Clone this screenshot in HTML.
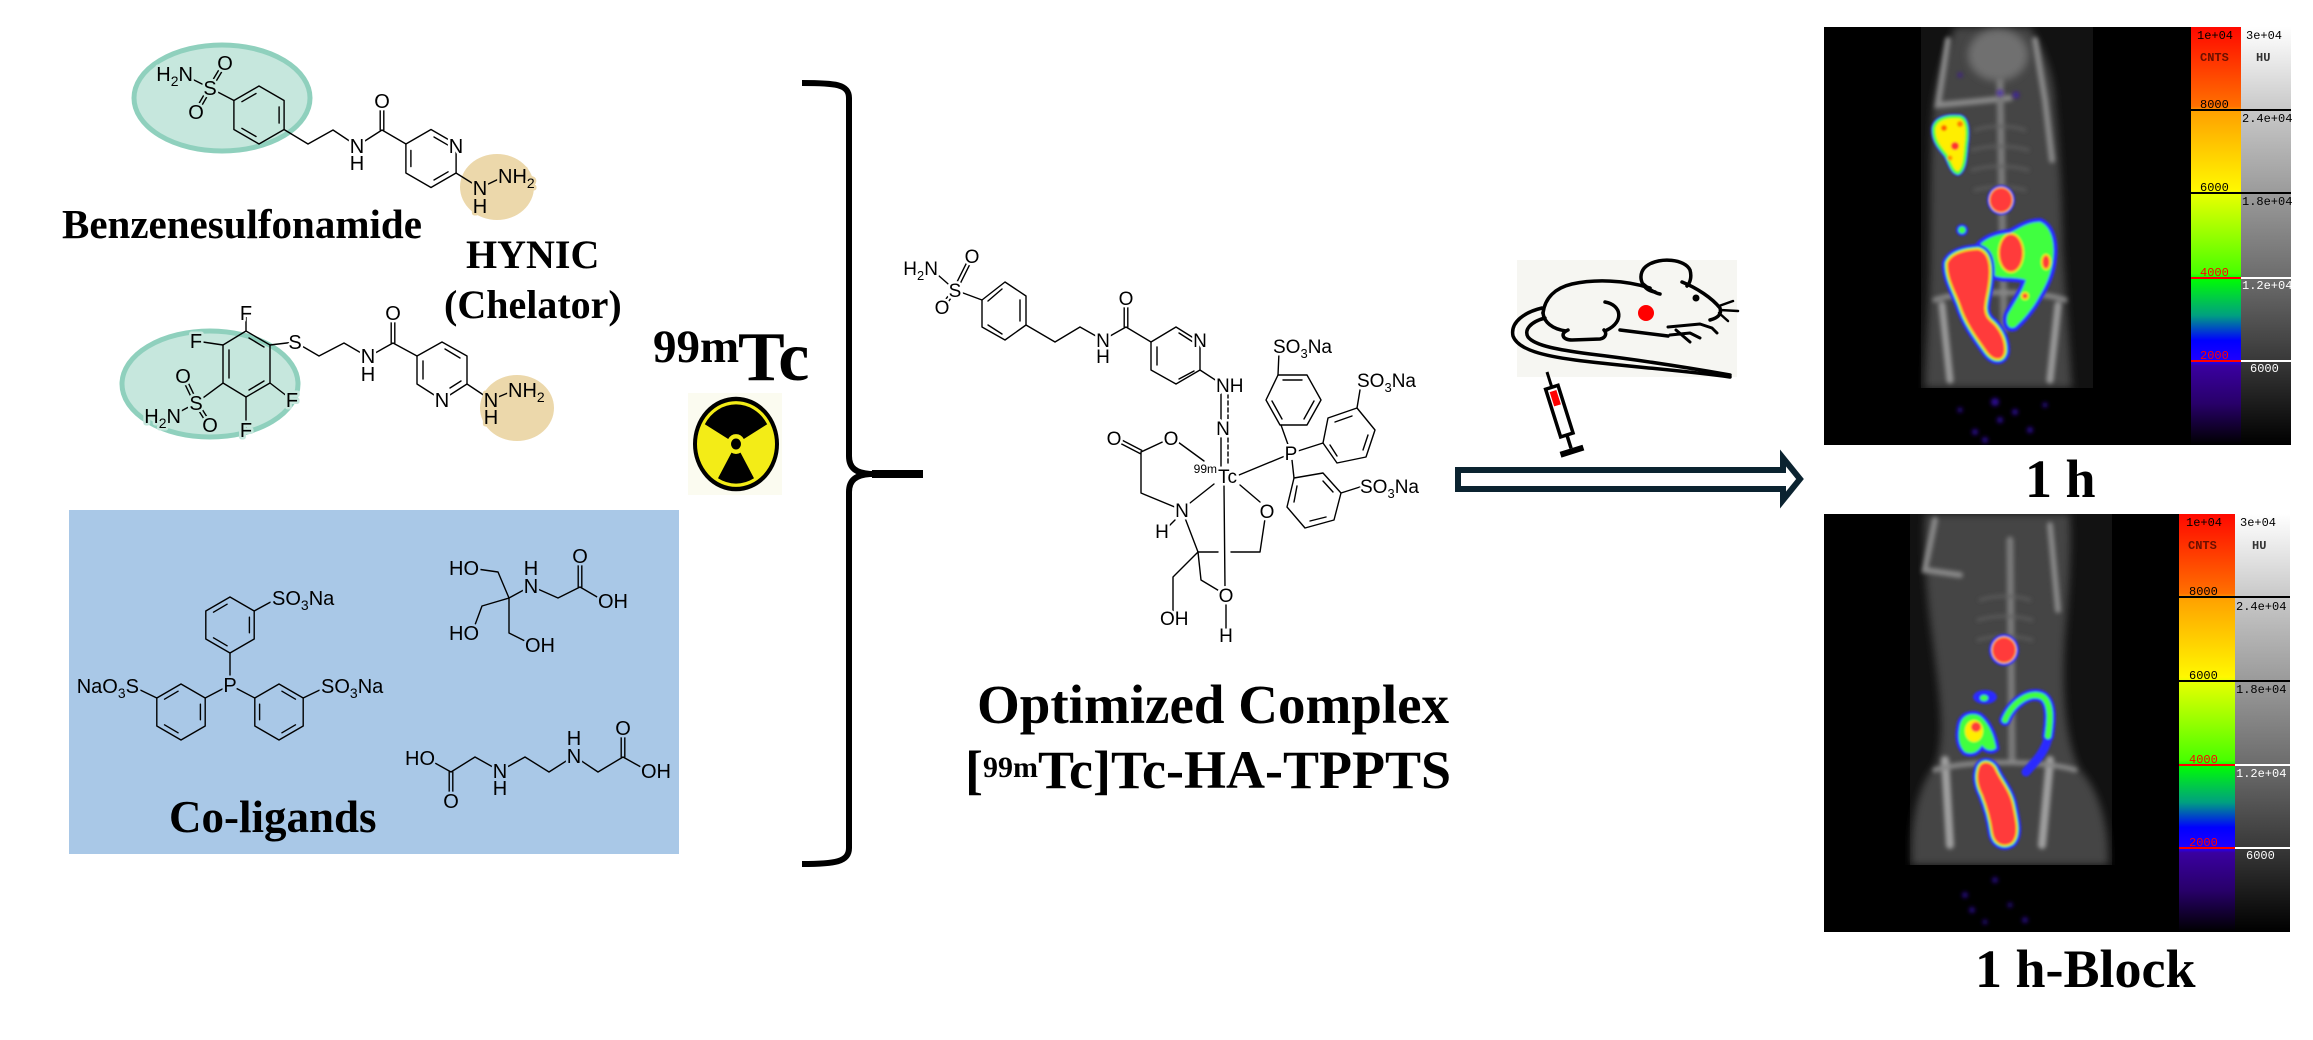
<!DOCTYPE html>
<html><head><meta charset="utf-8"><style>
html,body{margin:0;padding:0;background:#fff}
svg{display:block}
.l{font-family:"Liberation Sans",Arial,sans-serif;font-size:20px;fill:#000;paint-order:stroke;stroke-width:5px;stroke-linejoin:round}
.m{font-size:19px}
.w{stroke:#fff}.t{stroke:#c6e7dd}.n{stroke:#ecd8ab}.b{stroke:#a9c8e7}
.h{font-family:"Liberation Serif","Times New Roman",serif;font-weight:bold;fill:#000}
.c{font-family:"Liberation Mono",monospace;font-size:12px}
</style></head><body>
<svg width="2313" height="1040" viewBox="0 0 2313 1040" xmlns="http://www.w3.org/2000/svg">
<defs>
<filter id="b1" x="-20%" y="-20%" width="140%" height="140%"><feGaussianBlur stdDeviation="1"/></filter>
<filter id="b2" x="-20%" y="-20%" width="140%" height="140%"><feGaussianBlur stdDeviation="2"/></filter>
<filter id="b3" x="-20%" y="-20%" width="140%" height="140%"><feGaussianBlur stdDeviation="4"/></filter>
<clipPath id="ci1"><rect x="1824" y="27" width="367" height="418"/></clipPath>
<clipPath id="ci1b"><rect x="1824" y="27" width="367" height="361"/></clipPath>
<clipPath id="ci2"><rect x="1824" y="514" width="355" height="418"/></clipPath>
<clipPath id="ci2b"><rect x="1824" y="514" width="355" height="351"/></clipPath>
<linearGradient id="cnts" x1="0" y1="0" x2="0" y2="1">
<stop offset="0" stop-color="#ff0800"/><stop offset="0.19" stop-color="#ff7000"/>
<stop offset="0.2" stop-color="#ffa000"/><stop offset="0.39" stop-color="#fff800"/>
<stop offset="0.4" stop-color="#e8ff00"/><stop offset="0.59" stop-color="#48ff00"/>
<stop offset="0.6" stop-color="#00ff00"/><stop offset="0.69" stop-color="#00a080"/>
<stop offset="0.75" stop-color="#0000ff"/><stop offset="0.8" stop-color="#2000ff"/>
<stop offset="0.81" stop-color="#3a00a0"/><stop offset="0.9" stop-color="#28006a"/>
<stop offset="1" stop-color="#000000"/>
</linearGradient>
<linearGradient id="hu" x1="0" y1="0" x2="0" y2="1">
<stop offset="0" stop-color="#ffffff"/><stop offset="0.2" stop-color="#c8c8c8"/>
<stop offset="0.4" stop-color="#9a9a9a"/><stop offset="0.6" stop-color="#6c6c6c"/>
<stop offset="0.8" stop-color="#383838"/><stop offset="1" stop-color="#000000"/>
</linearGradient>
</defs>
<rect width="2313" height="1040" fill="#fff"/>

<!-- ============ LEFT: molecules ============ -->
<ellipse cx="222" cy="98" rx="88" ry="53" fill="#c6e7dd" stroke="#8fd0bd" stroke-width="5"/>
<ellipse cx="497" cy="187" rx="37" ry="33" fill="#ecd8ab"/>
<ellipse cx="210" cy="384" rx="88" ry="53" fill="#c6e7dd" stroke="#8fd0bd" stroke-width="5"/>
<ellipse cx="517" cy="408" rx="37" ry="33" fill="#ecd8ab"/>
<rect x="69" y="510" width="610" height="344" fill="#a9c8e7"/>

<g stroke="#000" stroke-width="1.4" fill="none" stroke-linecap="round" stroke-linejoin="round">
<!-- molecule 1 -->
<path d="M186,76 L210,88"/>
<path d="M208.5,87.1 L223.5,62.1 M211.5,88.9 L226.5,63.9"/>
<path d="M211.5,88.9 L197.5,112.9 M208.5,87.1 L194.5,111.1"/>
<path d="M210,88 L234,100.5"/>
<g transform="translate(259,115)"><polygon points="0,-29 25.1,-14.5 25.1,14.5 0,29 -25.1,14.5 -25.1,-14.5"/><path d="M20.1,-8.1 L20.1,8.1 M-3,21.5 L-17.1,13.3 M-17.1,-13.3 L-3,-21.5"/></g>
<path d="M284,129.5 L308,144 L333,130 L357,146 L382,130 L406,144"/>
<path d="M380.2,130 L380.2,101 M383.8,130 L383.8,101"/>
<g transform="translate(431,158.5)"><polygon points="0,-29 25.1,-14.5 25.1,14.5 0,29 -25.1,14.5 -25.1,-14.5"/><path d="M3,-21.5 L17.1,-13.3 M17.1,13.3 L3,21.5 M-20.1,8.1 L-20.1,-8.1"/></g>
<path d="M456,173 L480,188 L505,176"/>
<!-- molecule 2 -->
<path d="M246,331 L270,345 L270,383 L246,397 L223,383 L223,345 Z"/>
<path d="M249,338 L264,347 M264,381 L249,390 M229,350 L229,378"/>
<path d="M246,331 L246,313 M223,345 L196,341 M270,345 L295,342"/>
<path d="M295,342 L319,356 L344,343 L368,357 L393,343 L417,356"/>
<path d="M391.2,343 L391.2,313 M394.8,343 L394.8,313"/>
<path d="M417,356 L442,342 L467,356 L467,384 L442,400 L417,384 Z"/>
<path d="M445,349 L460,358 M461,381 L450,388 M423,379 L423,361"/>
<path d="M467,384 L491,400 L515,390"/>
<path d="M223,383 L196,403"/>
<path d="M197.6,402.2 L184.6,375.2 M194.4,403.8 L181.4,376.8"/>
<path d="M197.5,402 L211.5,424 M194.5,404 L208.5,426"/>
<path d="M196,403 L172,416"/>
<path d="M270,383 L292,400 M246,397 L246,430"/>
<!-- TPPTS -->
<g transform="translate(230,625)"><polygon points="0,-28 24.2,-14 24.2,14 0,28 -24.2,14 -24.2,-14"/><path d="M19.4,-7.8 L19.4,7.8 M-2.9,20.8 L-16.5,12.8 M-16.5,-12.8 L-2.9,-20.8"/></g>
<g transform="translate(181,712)"><polygon points="0,-28 24.2,-14 24.2,14 0,28 -24.2,14 -24.2,-14"/><path d="M19.4,-7.8 L19.4,7.8 M-2.9,20.8 L-16.5,12.8 M-16.5,-12.8 L-2.9,-20.8"/></g>
<g transform="translate(279,712)"><polygon points="0,-28 24.2,-14 24.2,14 0,28 -24.2,14 -24.2,-14"/><path d="M-19.4,-7.8 L-19.4,7.8 M2.9,20.8 L16.5,12.8 M16.5,-12.8 L2.9,-20.8"/></g>
<path d="M230,653 L230,685 L205.2,698 M230,685 L254.8,698 M254.2,611 L278,598 M156.8,698 L132,686 M303.2,698 L328,686"/>
<!-- tricine -->
<path d="M470,568 L498,572 L509,598 L482,606 L472,633 M509,598 L509,633 L533,645 M509,598 L531,586 L558,598 L580,587 L604,601"/>
<path d="M578.2,587 L578.2,556 M581.8,587 L581.8,556"/>
<!-- EDDA -->
<path d="M426,758 L451,772 L475,757 L500,771 L525,757 L549,772 L574,756 L598,772 L623,757 L648,771"/>
<path d="M449.2,772 L449.2,801 M452.8,772 L452.8,801 M621.2,757 L621.2,728 M624.8,757 L624.8,728"/>
</g>

<!-- label backgrounds (clear bond lines inside O / P counters) -->
<g fill="#c6e7dd"><circle cx="225" cy="63" r="7.5"/><circle cx="196" cy="112" r="7.5"/><circle cx="183" cy="376" r="7.5"/><circle cx="210" cy="425" r="7.5"/></g>
<g fill="#fff"><circle cx="382" cy="101" r="7.5"/><circle cx="393" cy="313" r="7.5"/></g>
<g fill="#a9c8e7"><circle cx="230" cy="685" r="7.5"/><circle cx="580" cy="556" r="7.5"/><circle cx="471" cy="568" r="7.5"/><circle cx="471" cy="633" r="7.5"/><circle cx="533" cy="645" r="7.5"/><circle cx="606" cy="601" r="7.5"/><circle cx="427" cy="758" r="7.5"/><circle cx="451" cy="801" r="7.5"/><circle cx="623" cy="728" r="7.5"/><circle cx="649" cy="771" r="7.5"/></g>

<!-- labels molecule 1 -->
<text class="l t" x="193" y="81" text-anchor="end">H<tspan font-size="14" dy="5">2</tspan><tspan dy="-5">N</tspan></text>
<text class="l t" x="210" y="95" text-anchor="middle">S</text>
<text class="l t" x="225" y="70" text-anchor="middle">O</text>
<text class="l t" x="196" y="119" text-anchor="middle">O</text>
<text class="l w" x="357" y="153" text-anchor="middle">N</text>
<text class="l w" x="357" y="170" text-anchor="middle">H</text>
<text class="l w" x="382" y="108" text-anchor="middle">O</text>
<text class="l w" x="456" y="153" text-anchor="middle">N</text>
<text class="l n" x="480" y="195" text-anchor="middle">N</text>
<text class="l n" x="480" y="213" text-anchor="middle">H</text>
<text class="l n" x="498" y="183">NH<tspan font-size="14" dy="5">2</tspan></text>
<!-- labels molecule 2 -->
<text class="l w" x="246" y="320" text-anchor="middle">F</text>
<text class="l t" x="196" y="348" text-anchor="middle">F</text>
<text class="l w" x="295" y="349" text-anchor="middle">S</text>
<text class="l w" x="368" y="363" text-anchor="middle">N</text>
<text class="l w" x="368" y="381" text-anchor="middle">H</text>
<text class="l w" x="393" y="320" text-anchor="middle">O</text>
<text class="l w" x="442" y="407" text-anchor="middle">N</text>
<text class="l n" x="491" y="407" text-anchor="middle">N</text>
<text class="l n" x="491" y="424" text-anchor="middle">H</text>
<text class="l n" x="508" y="397">NH<tspan font-size="14" dy="5">2</tspan></text>
<text class="l t" x="183" y="383" text-anchor="middle">O</text>
<text class="l t" x="196" y="410" text-anchor="middle">S</text>
<text class="l t" x="210" y="432" text-anchor="middle">O</text>
<text class="l t" x="181" y="423" text-anchor="end">H<tspan font-size="14" dy="5">2</tspan><tspan dy="-5">N</tspan></text>
<text class="l t" x="292" y="407" text-anchor="middle">F</text>
<text class="l t" x="246" y="437" text-anchor="middle">F</text>
<!-- labels co-ligands -->
<text class="l b" x="230" y="692" text-anchor="middle">P</text>
<text class="l b" x="272" y="605">SO<tspan font-size="14" dy="5">3</tspan><tspan dy="-5">Na</tspan></text>
<text class="l b" x="139" y="693" text-anchor="end">NaO<tspan font-size="14" dy="5">3</tspan><tspan dy="-5">S</tspan></text>
<text class="l b" x="321" y="693">SO<tspan font-size="14" dy="5">3</tspan><tspan dy="-5">Na</tspan></text>
<text class="l b" x="449" y="575">HO</text>
<text class="l b" x="449" y="640">HO</text>
<text class="l b" x="525" y="652">OH</text>
<text class="l b" x="531" y="593" text-anchor="middle">N</text>
<text class="l b" x="531" y="575" text-anchor="middle">H</text>
<text class="l b" x="580" y="563" text-anchor="middle">O</text>
<text class="l b" x="598" y="608">OH</text>
<text class="l b" x="405" y="765">HO</text>
<text class="l b" x="451" y="808" text-anchor="middle">O</text>
<text class="l b" x="500" y="778" text-anchor="middle">N</text>
<text class="l b" x="500" y="795" text-anchor="middle">H</text>
<text class="l b" x="574" y="763" text-anchor="middle">N</text>
<text class="l b" x="574" y="745" text-anchor="middle">H</text>
<text class="l b" x="623" y="735" text-anchor="middle">O</text>
<text class="l b" x="641" y="778">OH</text>

<!-- big labels left -->
<text class="h" x="62" y="238" font-size="41">Benzenesulfonamide</text>
<text class="h" x="466" y="268" font-size="40">HYNIC</text>
<text class="h" x="444" y="318" font-size="40">(Chelator)</text>
<text class="h" x="169" y="832" font-size="45">Co-ligands</text>

<!-- 99mTc + radiation -->
<text class="h" x="653" y="362" font-size="47">99m</text>
<text class="h" x="738" y="380" font-size="70">Tc</text>
<rect x="688" y="393" width="94" height="102" fill="#fbfbf0"/>
<g transform="translate(736,444) scale(1,1.1)">
<circle r="41" fill="#f3ec17" stroke="#000" stroke-width="4"/>
<path d="M0,-36 A36 36 0 0 1 31.18,-18 L7.79,-4.5 A9 9 0 0 0 0,-9 Z M-31.18,-18 A36 36 0 0 1 0,-36 L0,-9 A9 9 0 0 0 -7.79,-4.5 Z M18,31.18 A36 36 0 0 1 -18,31.18 L-4.5,7.79 A9 9 0 0 0 4.5,7.79 Z" fill="#000"/>
<circle r="5" fill="#000"/>
</g>

<!-- bracket -->
<path d="M802,83 C835,83 849,84 849,98 L849,456 C849,468 856,473 870,474 L923,474 M870,474 C856,475 849,480 849,492 L849,848 C849,862 835,864 802,864" stroke="#000" stroke-width="6" fill="none"/>
<line x1="872" y1="474" x2="923" y2="474" stroke="#000" stroke-width="8"/>

<!-- ============ CENTRAL COMPLEX ============ -->
<g stroke="#000" stroke-width="1.4" fill="none" stroke-linecap="round" stroke-linejoin="round">
<path d="M930,268 L955,290"/>
<path d="M956.6,290.8 L973.6,256.8 M953.4,289.2 L970.4,255.2"/>
<path d="M956.4,291.1 L943.4,308.1 M953.6,288.9 L940.6,305.9"/>
<path d="M955,290 L982,300"/>
<path d="M1005,282 L1026,296 L1026,325 L1005,340 L982,327 L982,300 Z"/>
<path d="M1020,300 L1020,321 M1002,334 L988,325 M988,301 L1002,289"/>
<path d="M1026,325 L1055,342 L1080,327 L1103,340 L1126,327 L1151,342"/>
<path d="M1124.2,327 L1124.2,298 M1127.8,327 L1127.8,298"/>
<path d="M1151,342 L1176,327 L1200,342 L1200,370 L1176,384 L1151,370 Z"/>
<path d="M1179,333 L1193,342 M1194,371 L1179,379 M1157,365 L1157,347"/>
<path d="M1200,370 L1223,385"/>
<path d="M1221,394 L1221,421 M1221,438 L1221,466"/>
<path d="M1228,394 L1228,421 M1228,438 L1228,466" stroke-dasharray="4,3"/>
<path d="M1113.2,439.6 L1140.2,453.6 M1114.8,436.4 L1141.8,450.4"/>
<path d="M1141,452 L1171,438"/>
<path d="M1178,442 L1204,461"/>
<path d="M1141,452 L1141,493 L1182,510"/>
<path d="M1190,503 L1214,484"/>
<path d="M1175,520 L1167,528"/>
<path d="M1185,518 L1198,552"/>
<path d="M1198,552 L1218,552 M1231,552 L1260,552 L1266,512"/>
<path d="M1260,502 L1240,485"/>
<path d="M1198,552 L1173,577 L1173,612"/>
<path d="M1198,552 L1201,580 L1226,595"/>
<path d="M1226,602 L1226,628"/>
<path d="M1224,486 L1225,588"/>
<path d="M1239,475 L1285,456"/>
<path d="M1291,453 L1281,425"/>
<path d="M1278,375 L1307,375 L1321,400 L1307,425 L1280,425 L1266,400 Z"/>
<path d="M1283,380 L1302,380 M1304,419 L1314,401 M1272,401 L1282,419"/>
<path d="M1278,375 L1279,352"/>
<path d="M1298,451 L1323,443"/>
<path d="M1328,418 L1357,408 L1375,430 L1366,457 L1337,463 L1323,443 Z"/>
<path d="M1335,422 L1352,416 M1368,435 L1363,450 M1337,456 L1330,445"/>
<path d="M1357,408 L1360,390"/>
<path d="M1292,460 L1294,478"/>
<path d="M1294,478 L1323,473 L1341,493 L1334,520 L1305,528 L1287,507 Z"/>
<path d="M1323,481 L1333,492 M1326,517 L1310,521 M1294,502 L1297,486"/>
<path d="M1341,493 L1363,486"/>
</g>
<g fill="#fff"><circle cx="972" cy="256" r="7"/><circle cx="942" cy="307" r="7"/><circle cx="1126" cy="298" r="7"/><circle cx="1171" cy="438" r="7"/><circle cx="1114" cy="438" r="7"/><circle cx="1267" cy="511" r="7"/><circle cx="1167" cy="618" r="7"/><circle cx="1226" cy="595" r="7"/><circle cx="1291" cy="453" r="7"/></g>
<text class="l m w" x="938" y="275" text-anchor="end">H<tspan font-size="13" dy="5">2</tspan><tspan dy="-5">N</tspan></text>
<text class="l m w" x="955" y="297" text-anchor="middle">S</text>
<text class="l m w" x="972" y="263" text-anchor="middle">O</text>
<text class="l m w" x="942" y="314" text-anchor="middle">O</text>
<text class="l m w" x="1103" y="347" text-anchor="middle">N</text>
<text class="l m w" x="1103" y="363" text-anchor="middle">H</text>
<text class="l m w" x="1126" y="305" text-anchor="middle">O</text>
<text class="l m w" x="1200" y="347" text-anchor="middle">N</text>
<text class="l m w" x="1216" y="392">NH</text>
<text class="l m w" x="1223" y="435" text-anchor="middle">N</text>
<text class="l m w" x="1218" y="483">Tc</text>
<text class="l w" x="1217" y="473" text-anchor="end" style="font-size:12px;stroke-width:3px">99m</text>
<text class="l m w" x="1171" y="445" text-anchor="middle">O</text>
<text class="l m w" x="1114" y="445" text-anchor="middle">O</text>
<text class="l m w" x="1182" y="517" text-anchor="middle">N</text>
<text class="l m w" x="1162" y="538" text-anchor="middle">H</text>
<text class="l m w" x="1267" y="518" text-anchor="middle">O</text>
<text class="l m w" x="1160" y="625">OH</text>
<text class="l m w" x="1226" y="602" text-anchor="middle">O</text>
<text class="l m w" x="1226" y="642" text-anchor="middle">H</text>
<text class="l m w" x="1291" y="460" text-anchor="middle">P</text>
<text class="l m w" x="1273" y="353">SO<tspan font-size="13" dy="5">3</tspan><tspan dy="-5">Na</tspan></text>
<text class="l m w" x="1357" y="387">SO<tspan font-size="13" dy="5">3</tspan><tspan dy="-5">Na</tspan></text>
<text class="l m w" x="1360" y="493">SO<tspan font-size="13" dy="5">3</tspan><tspan dy="-5">Na</tspan></text>

<text class="h" x="977" y="723" font-size="55">Optimized Complex</text>
<text class="h" x="965" y="788" font-size="54">[<tspan font-size="30" dy="-11">99m</tspan><tspan dy="11">Tc]Tc-HA-TPPTS</tspan></text>

<!-- ============ MOUSE + SYRINGE + ARROW ============ -->
<rect x="1517" y="260" width="220" height="117" fill="#f6f6f2"/>
<g stroke="#000" stroke-width="3.5" fill="none" stroke-linecap="round" stroke-linejoin="round">
<path d="M1543,313 C1545,298 1555,288 1572,284 C1595,279 1625,280 1650,288"/>
<path d="M1655,292 C1640,290 1636,272 1648,265 C1660,257 1685,259 1690,270 C1692,277 1690,283 1687,286"/>
<path d="M1643,284 C1650,290 1655,293 1660,294"/>
<path d="M1682,282 C1697,288 1712,298 1720,308 C1722,314 1718,318 1710,320"/>
<path d="M1719,306 L1733,301 M1720,310 L1738,311 M1719,313 L1728,321" stroke-width="2.5"/>
<path d="M1668,327 L1700,324 L1712,328 L1717,333 M1670,335 L1690,333 L1700,338 M1676,330 L1690,342" stroke-width="3"/>
<path d="M1620,330 L1668,336"/>
<path d="M1605,302 C1622,305 1624,322 1607,330"/>
<path d="M1568,330 C1560,333 1562,340 1572,340 L1600,339 C1606,338 1607,333 1604,330"/>
<path d="M1543,313 C1544,322 1552,329 1566,331"/>
<path d="M1542,308 C1525,312 1510,322 1513,336 C1518,350 1545,356 1575,360 C1620,366 1680,370 1730,377"/>
<path d="M1545,318 C1530,322 1524,330 1528,337 C1535,346 1560,350 1590,354 C1640,360 1690,368 1730,375"/>
</g>
<circle cx="1696" cy="298" r="3.5" fill="#000"/>
<circle cx="1646" cy="313" r="8" fill="#f00"/>
<g transform="translate(1547,372) rotate(-17.5)">
<line x1="0" y1="0" x2="0" y2="16" stroke="#000" stroke-width="3"/>
<rect x="-6.5" y="16" width="13" height="50" fill="#fff" stroke="#000" stroke-width="3.5"/>
<rect x="-3.5" y="20" width="7" height="15" fill="#f00"/>
<line x1="0" y1="66" x2="0" y2="80" stroke="#000" stroke-width="3.5"/>
<rect x="-12" y="80" width="24" height="6" fill="#000"/>
</g>
<path d="M1458,470 H1783 V458 L1800,479 L1783,500 V489 H1458 Z" fill="#fff" stroke="#0b2330" stroke-width="6" stroke-linejoin="miter"/>

<!-- ============ SPECT IMAGE 1 ============ -->
<rect x="1824" y="27" width="367" height="418" fill="#000"/>
<g clip-path="url(#ci1)">
<g clip-path="url(#ci1b)">
<rect x="1921" y="27" width="172" height="361" fill="#121212"/>
<path d="M1955,27 L2030,27 C2045,50 2055,80 2055,105 C2060,150 2062,200 2063,250 C2066,300 2070,350 2072,388 L1925,388 C1926,340 1930,300 1930,250 C1931,200 1930,150 1933,110 C1936,80 1945,50 1955,27 Z" fill="#444" filter="url(#b3)"/>
<g stroke="#888" fill="none" filter="url(#b2)" stroke-linecap="round">
<path d="M1948,40 L1938,105 L1970,102 L2010,98" stroke-width="6"/>
<path d="M2035,40 L2045,100 L2052,160" stroke-width="6"/>
<path d="M2000,80 L2004,330" stroke-width="7" stroke="#7a7a7a"/>
<path d="M1975,130 C1990,125 2010,125 2025,130 M1972,150 C1990,145 2010,145 2028,150 M1972,170 C1990,165 2010,165 2028,170 M1975,190 C1990,186 2010,186 2025,190" stroke-width="2.5" stroke="#5e5e5e"/>
<path d="M1942,305 L1950,380 M2058,305 L2050,380" stroke-width="7" stroke="#9a9a9a"/>
<path d="M1935,300 C1960,290 2040,290 2065,300" stroke-width="5"/>
</g>
<ellipse cx="1998" cy="55" rx="30" ry="26" fill="#707070" filter="url(#b3)"/>
<line x1="2087" y1="27" x2="2087" y2="388" stroke="#4a4a4a" stroke-width="5" filter="url(#b2)"/>
</g>
<g filter="url(#b2)" fill="#3a10c0" opacity="0.8">
<circle cx="1995" cy="402" r="4"/><circle cx="2000" cy="420" r="3"/><circle cx="1975" cy="432" r="3"/>
<circle cx="2030" cy="430" r="3"/><circle cx="2015" cy="412" r="3"/><circle cx="1960" cy="410" r="2.5"/>
<circle cx="2045" cy="405" r="2.5"/><circle cx="1985" cy="440" r="3"/>
<circle cx="2000" cy="93" r="3"/><circle cx="2016" cy="95" r="3"/><circle cx="1960" cy="75" r="2"/>
</g>
<g filter="url(#b1)">
<path d="M1934,128 C1936,118 1948,116 1960,117 C1967,119 1968,130 1966,145 C1965,158 1964,170 1958,173 C1952,172 1950,162 1946,155 C1940,148 1933,140 1934,128 Z" fill="#2a2aff" stroke="#2a2aff" stroke-width="6"/>
<path d="M1934,128 C1936,118 1948,116 1960,117 C1967,119 1968,130 1966,145 C1965,158 1964,170 1958,173 C1952,172 1950,162 1946,155 C1940,148 1933,140 1934,128 Z" fill="#ffee00" stroke="#50ff30" stroke-width="3"/>
<circle cx="1955" cy="146" r="4" fill="#ff3030"/>
<circle cx="1944" cy="128" r="3" fill="#ff6000"/>
<circle cx="1960" cy="124" r="3" fill="#ff8000"/>
<circle cx="1950" cy="158" r="2.5" fill="#ff9000"/>
<ellipse cx="2001" cy="200" rx="14" ry="15" fill="#2a2aff"/>
<ellipse cx="2001" cy="200" rx="12" ry="13" fill="#ffe000"/>
<ellipse cx="2001" cy="200" rx="11" ry="12" fill="#ff3a3a"/>
<circle cx="1962" cy="230" r="6" fill="#2a2aff"/><circle cx="1962" cy="230" r="3.5" fill="#40ff40"/>
<path d="M1978,247 C1985,238 1998,234 2010,233 C2020,228 2028,222 2040,222 C2050,226 2055,240 2053,258 C2052,272 2046,285 2040,295 C2033,308 2025,318 2015,327 C2008,330 2005,322 2008,314 C2015,302 2022,292 2026,280 C2015,276 2000,280 1992,274 Z" fill="#2a2aff" stroke="#2a2aff" stroke-width="8"/>
<path d="M1978,247 C1985,238 1998,234 2010,233 C2020,228 2028,222 2040,222 C2050,226 2055,240 2053,258 C2052,272 2046,285 2040,295 C2033,308 2025,318 2015,327 C2008,330 2005,322 2008,314 C2015,302 2022,292 2026,280 C2015,276 2000,280 1992,274 Z" fill="#40ff40"/>
<ellipse cx="2011" cy="253" rx="13" ry="20" fill="#ffe000"/>
<ellipse cx="2011" cy="253" rx="11.5" ry="18.5" fill="#ff3a3a"/>
<ellipse cx="2046" cy="262" rx="5" ry="8" fill="#ffe000"/>
<ellipse cx="2046" cy="262" rx="3.5" ry="6.5" fill="#ff3a3a"/>
<circle cx="2025" cy="296" r="4" fill="#ffe000"/><circle cx="2025" cy="296" r="2.5" fill="#ff3a3a"/>
<path d="M1947,263 C1950,255 1960,250 1978,249 C1990,252 1992,268 1988,290 C1986,302 1982,312 1990,320 C2000,328 2006,340 2005,352 C2003,362 1993,362 1985,350 C1975,336 1965,322 1960,306 C1955,292 1946,278 1947,263 Z" fill="#2a2aff" stroke="#2a2aff" stroke-width="10"/>
<path d="M1947,263 C1950,255 1960,250 1978,249 C1990,252 1992,268 1988,290 C1986,302 1982,312 1990,320 C2000,328 2006,340 2005,352 C2003,362 1993,362 1985,350 C1975,336 1965,322 1960,306 C1955,292 1946,278 1947,263 Z" fill="#ff3a3a" stroke="#48ff30" stroke-width="4"/>
<path d="M1947,263 C1950,255 1960,250 1978,249 C1990,252 1992,268 1988,290 C1986,302 1982,312 1990,320 C2000,328 2006,340 2005,352 C2003,362 1993,362 1985,350 C1975,336 1965,322 1960,306 C1955,292 1946,278 1947,263 Z" fill="#ff3a3a" stroke="#ffe000" stroke-width="1.5"/>
</g>
</g>
<rect x="2191" y="27" width="50" height="418" fill="url(#cnts)"/>
<rect x="2241" y="27" width="50" height="418" fill="url(#hu)"/>
<line x1="2191" y1="110" x2="2291" y2="110" stroke="#000" stroke-width="2"/>
<line x1="2191" y1="193" x2="2291" y2="193" stroke="#000" stroke-width="2"/>
<line x1="2191" y1="278" x2="2241" y2="278" stroke="#f00" stroke-width="2"/>
<line x1="2241" y1="278" x2="2291" y2="278" stroke="#fff" stroke-width="2"/>
<line x1="2191" y1="361" x2="2241" y2="361" stroke="#f00" stroke-width="2"/>
<line x1="2241" y1="361" x2="2291" y2="361" stroke="#fff" stroke-width="2"/>
<text class="c" x="2197" y="39" fill="#000">1e+04</text>
<text class="c" x="2200" y="61" fill="#6a1000" font-weight="bold">CNTS</text>
<text class="c" x="2200" y="108" fill="#000">8000</text>
<text class="c" x="2200" y="191" fill="#000">6000</text>
<text class="c" x="2200" y="276" fill="#f00">4000</text>
<text class="c" x="2200" y="359" fill="#f00">2000</text>
<text class="c" x="2246" y="39" fill="#000">3e+04</text>
<text class="c" x="2256" y="61" fill="#333" font-weight="bold">HU</text>
<text class="c" x="2242" y="122" fill="#000">2.4e+04</text>
<text class="c" x="2242" y="205" fill="#000">1.8e+04</text>
<text class="c" x="2242" y="289" fill="#fff">1.2e+04</text>
<text class="c" x="2250" y="372" fill="#fff">6000</text>
<text class="h" x="2025" y="497" font-size="54">1 h</text>

<!-- ============ SPECT IMAGE 2 ============ -->
<rect x="1824" y="514" width="355" height="418" fill="#000"/>
<g clip-path="url(#ci2)">
<g clip-path="url(#ci2b)">
<rect x="1910" y="514" width="202" height="351" fill="#121212"/>
<path d="M1925,514 L2070,514 C2072,560 2068,600 2065,640 C2062,690 2065,740 2080,770 C2100,790 2110,830 2108,865 L1912,865 C1910,830 1915,790 1935,765 C1945,740 1940,700 1935,660 C1930,620 1922,570 1925,514 Z" fill="#444" filter="url(#b3)"/>
<g stroke="#888" fill="none" filter="url(#b2)" stroke-linecap="round">
<path d="M1935,520 L1925,570 L1960,575" stroke-width="6"/>
<path d="M2050,525 L2058,610" stroke-width="6"/>
<path d="M2010,540 L2012,760" stroke-width="7" stroke="#7a7a7a"/>
<path d="M1980,600 C1995,595 2015,595 2030,600 M1978,620 C1995,615 2015,615 2032,620 M1978,640 C1995,635 2015,635 2032,640" stroke-width="2.5" stroke="#5e5e5e"/>
<path d="M1945,760 L1950,845 M2050,760 L2042,845" stroke-width="8" stroke="#a0a0a0"/>
<path d="M1935,770 C1965,760 2045,760 2075,770" stroke-width="5"/>
</g>
<line x1="2098" y1="514" x2="2098" y2="865" stroke="#3a3a3a" stroke-width="5" filter="url(#b2)"/>
</g>
<g filter="url(#b2)" fill="#3a10c0" opacity="0.7">
<circle cx="1995" cy="880" r="3"/><circle cx="1965" cy="895" r="3"/><circle cx="1972" cy="910" r="3"/>
<circle cx="2010" cy="905" r="2.5"/><circle cx="2025" cy="920" r="3"/><circle cx="1985" cy="922" r="2.5"/>
</g>
<g filter="url(#b1)">
<ellipse cx="2004" cy="650" rx="15" ry="16" fill="#2a2aff"/>
<ellipse cx="2004" cy="650" rx="12.5" ry="13.5" fill="#ffe000"/>
<ellipse cx="2004" cy="650" rx="11.5" ry="12.5" fill="#ff3a3a"/>
<ellipse cx="1985" cy="697" rx="12" ry="7" fill="#2a2aff"/>
<ellipse cx="1984" cy="698" rx="4" ry="3" fill="#40ff40"/>
<path d="M1960,725 C1962,715 1972,712 1980,716 C1988,722 1994,735 1996,748 C1992,752 1985,750 1982,745 C1978,752 1972,755 1965,752 C1958,745 1958,735 1960,725 Z" fill="#2a2aff" stroke="#2a2aff" stroke-width="7"/>
<path d="M1960,725 C1962,715 1972,712 1980,716 C1988,722 1994,735 1996,748 C1992,752 1985,750 1982,745 C1978,752 1972,755 1965,752 C1958,745 1958,735 1960,725 Z" fill="#40ff40"/>
<ellipse cx="1974" cy="731" rx="9" ry="11" fill="#ffee00"/>
<ellipse cx="1976" cy="727" rx="5" ry="5" fill="#ff3a3a"/>
<path d="M2005,720 C2012,703 2030,690 2043,697 C2052,704 2050,722 2048,736" fill="none" stroke="#2a2aff" stroke-width="12" stroke-linecap="round"/>
<path d="M2048,738 C2045,752 2035,762 2026,772" fill="none" stroke="#2a2aff" stroke-width="9" stroke-linecap="round"/>
<path d="M2005,720 C2012,703 2030,690 2043,697 C2052,704 2050,722 2048,736" fill="none" stroke="#40ff40" stroke-width="6" stroke-linecap="round"/>
<path d="M1978,770 C1980,760 1990,760 1995,768 C2000,780 2010,790 2013,805 C2016,820 2020,835 2012,843 C2004,848 1994,845 1992,832 C1990,818 1986,805 1982,795 C1978,787 1976,778 1978,770 Z" fill="#2a2aff" stroke="#2a2aff" stroke-width="9"/>
<path d="M1978,770 C1980,760 1990,760 1995,768 C2000,780 2010,790 2013,805 C2016,820 2020,835 2012,843 C2004,848 1994,845 1992,832 C1990,818 1986,805 1982,795 C1978,787 1976,778 1978,770 Z" fill="#ff3a3a" stroke="#48ff30" stroke-width="3.5"/>
<path d="M1978,770 C1980,760 1990,760 1995,768 C2000,780 2010,790 2013,805 C2016,820 2020,835 2012,843 C2004,848 1994,845 1992,832 C1990,818 1986,805 1982,795 C1978,787 1976,778 1978,770 Z" fill="#ff3a3a" stroke="#ffe000" stroke-width="1.2"/>
</g>
</g>
<rect x="2179" y="514" width="56" height="418" fill="url(#cnts)"/>
<rect x="2235" y="514" width="55" height="418" fill="url(#hu)"/>
<line x1="2179" y1="597" x2="2290" y2="597" stroke="#000" stroke-width="2"/>
<line x1="2179" y1="681" x2="2290" y2="681" stroke="#000" stroke-width="2"/>
<line x1="2179" y1="765" x2="2235" y2="765" stroke="#f00" stroke-width="2"/>
<line x1="2235" y1="765" x2="2290" y2="765" stroke="#fff" stroke-width="2"/>
<line x1="2179" y1="848" x2="2235" y2="848" stroke="#f00" stroke-width="2"/>
<line x1="2235" y1="848" x2="2290" y2="848" stroke="#fff" stroke-width="2"/>
<text class="c" x="2186" y="526" fill="#000">1e+04</text>
<text class="c" x="2188" y="549" fill="#6a1000" font-weight="bold">CNTS</text>
<text class="c" x="2189" y="595" fill="#000">8000</text>
<text class="c" x="2189" y="679" fill="#000">6000</text>
<text class="c" x="2189" y="763" fill="#f00">4000</text>
<text class="c" x="2189" y="846" fill="#f00">2000</text>
<text class="c" x="2240" y="526" fill="#000">3e+04</text>
<text class="c" x="2252" y="549" fill="#333" font-weight="bold">HU</text>
<text class="c" x="2236" y="610" fill="#000">2.4e+04</text>
<text class="c" x="2236" y="693" fill="#000">1.8e+04</text>
<text class="c" x="2236" y="777" fill="#fff">1.2e+04</text>
<text class="c" x="2246" y="859" fill="#fff">6000</text>
<text class="h" x="1975" y="987" font-size="54">1 h-Block</text>
</svg>
</body></html>
